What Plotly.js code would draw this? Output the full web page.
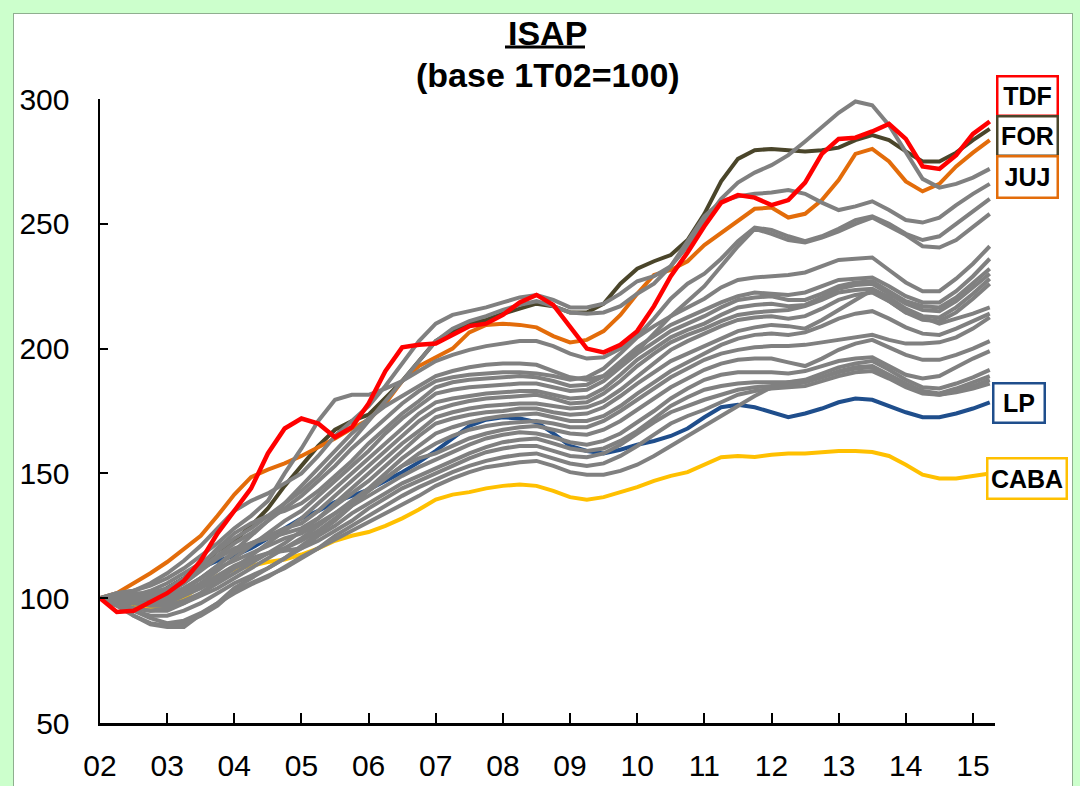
<!DOCTYPE html>
<html><head><meta charset="utf-8">
<script src="https://cdn.plot.ly/plotly-3.0.1.min.js"></script>
<style>
html,body{margin:0;padding:0;background:#ccffcc;width:1080px;height:786px;overflow:hidden}
#frame{position:absolute;left:13px;top:13px;width:1058px;height:800px;background:#fff;border:1.5px solid #8fae8f}
#chart{position:absolute;left:0;top:0;width:1080px;height:786px}
</style></head><body><div id="frame"></div><div id="chart"></div>
<script>
// Quarter labels 1T02 .. 2T15
const quarterLabels = [];
for (let y = 2; y <= 15; y++) for (let q = 1; q <= 4; q++) {
  if (y === 15 && q > 2) break;
  quarterLabels.push(q + 'T' + String(y).padStart(2, '0'));
}
const tickYears = [2002,2003,2004,2005,2006,2007,2008,2009,2010,2011,2012,2013,2014,2015];
const tickLabels = ['02','03','04','05','06','07','08','09','10','11','12','13','14','15'];

const TDF = [100,94.5,95,98.5,102,107,115,126, 135,144,158,168,172,170,164.5,168.5,
 178,191,200.5,201.5,202,205.5,209,210, 213.5,218.5,221.5,217.5,208.5,200,198.5,201.5,
 207,217,229,238.5,249,258.5,261.5,260.5, 257.5,259.5,266.5,278,284,284.5,287,290,
 284,273,272,277.5,286,291];
const FOR = [100,99,98,100,104,108,113,119, 123,129,136,145,153,161,167.5,171,
 173.5,180,187,195,203,207,210,211.5, 214,216,218,217,214.5,214.5,218,226,
 232,235,237.5,243.5,254,267,276,279.5, 280,279.5,279,279.5,280.5,283.5,285.5,283.5,
 279,275,275,278.5,283.5,288];
const JUJ = [100,102,106,110,114.5,120,125,133, 141.5,148.5,151.5,154,157,160.5,164,168,
 171.5,178,187,193,196.5,200,206.5,209.5, 210,209.5,208.5,205,202.5,203.5,207,213.5,
 222,229.5,231.5,235,241.5,246.5,251,256, 256.5,252.5,254,259.5,267.5,278,280,275,
 267,263,266,273,278.5,283.5];
const LP = [100,100,99,100,104,108,112,115, 117,120,124,128,132,135,138.5,141,
 143.5,147,150.5,154.5,159,164,169,171.5, 172.5,172,170.5,166,161,159,158,159.5,
 161.5,163,165,168,172.5,176.5,177.5,176.5, 174.5,172.5,174,176,178.5,180,179.5,177,
 174.5,172.5,172.5,174,176,178.5];
const CABA = [100,99,97,96,96,100,105,109, 111.5,113,114.5,115.5,117.5,120,123,125,
 126.5,129,132,135.5,139.5,141.5,142.5,144, 145,145.5,145,143,140.5,139.5,140.5,142.5,
 144.5,147,149,150.5,153.5,156.5,157,156.6, 157.5,158,158,158.5,159,159,158.6,157,
 153.5,149.5,148,148,149,150];

// Other provinces (grey)
const others = [
 [100,102,103,106,110,115,121,128, 135,139,142,146,150,157,165,171,
  177,185,194,203,210,213.5,215,216.5, 218.5,220.5,221.5,219.5,216.5,216.5,218,222,
  227,229,233,241,251,260,266.5,270.5, 273.5,277.5,283,288.5,294.5,299,297.5,289.5,
  279,268,264.5,266,268.5,272],
 [100,101,101,103,106,110,114,119, 124,128,133,138,143,149,156,163,
  171,179,187,195,203,208,211,213, 215.5,217.5,219,217,214.5,214,214.5,217,
  222,226,233,243,253,259,261,262, 262.5,263.5,262,258.5,255.5,257,259,255.5,
  251.5,250.5,252.5,257.5,262,266],
 [100,102,103,105,108,112,117,122, 128,133,139,150,160,171,179.5,181.5,
  181.5,184,187,191,195,197.5,199.5,201, 202,203,203,201,198,196,196.5,200,
  205,212,220,226,230,236,243,248.5, 247.5,245,243,245,248,251.5,253,250,
  246,243.5,245,250,255,260],
 [100,101,100,101,103,107,112,117, 122,126,131,138,145,152,159,166,
  172,177,181,185,189,191,192.5,193.5, 194,194,193.5,191,188.5,187.5,189,193,
  199,206,213,219,225,233,241,248, 246,243.5,242.5,244.5,247,250,252.5,249,
  245.5,241,240.5,243.5,249,254],
 [100,100,99,100,101,104,108,113, 119,125,131,136,141,147,153,160,
  166,172,178,183,187,188.5,189.5,190, 190.5,190.5,190,189,187.5,188.5,192,198,
  204.5,209,213,216.5,220,224.5,227.5,228.5, 229,229.5,230.5,233,235.5,236,236.5,231.5,
  226.5,223,223,228,234,241],
 [100,101,101,102,104,108,113,120, 126,130,133,135,138,143,149,155,
  162,168,174,179,184.5,186.5,187.5,188, 188.5,189,188.5,187,185,185.5,189,194.5,
  200.5,205,209.5,212.5,215.5,218.5,221,222.5, 222,221.5,222.5,225,227.5,228,228.5,225,
  221,218.5,218.5,223,229,236],
 [100,99,98,98,99,102,106,111, 116,121,126,131,135,141,147,153,
  159,166,172,177,182,183.5,184.5,185, 185.5,186,186,184.5,183,183.5,187,192.5,
  198,202.5,207,210,213,216.5,219.5,220.5, 221,219.5,219.5,222,225,226.5,227,223,
  219,217,216.5,220.5,226,232],
 [100,98,96,95,95,98,102,107, 112,117,122,127,132,138,144,150,
  156,162,168,174,178.5,180,181,182, 182.5,183,183,181.5,180,180.5,184,189.5,
  195.5,200,204.5,207.5,210,213.5,216.5,217.5, 218,217,217.5,220.5,224,225.5,226,222,
  218,215.5,215,219,224.5,230],
 [100,101,101,100,100,103,108,113, 118,122,125,128,130,135,141,147,
  153,159,165,171,175.5,177.5,179,180, 180.5,181,181.5,180,178,178.5,182,187,
  193,198,202.5,205.5,208,211,213.5,214.5, 215,215.5,217,219.5,222.5,223.5,224,220.5,
  216,213,212.5,216.5,222,228],
 [100,99,98,97,97,99,102,106, 110,114,118,122,127,132,138,144,
  150,156,162,167,172.5,174.5,176,177, 177.5,178,178,177,176,176.5,179,183.5,
  189,194.5,199.5,203,206,209,211.5,212.5, 213,212,213,216,219.5,221.5,222.5,219,
  214.5,211.5,211,214.5,220,226],
 [100,101,102,102,102,106,111,116, 120,122,124,126,128,132,137,142,
  147,153,159,165,170,172,173.5,174.5, 175,176,176,174.5,173.5,174,176.5,181,
  186,190.5,195,198,201,204,207,208.5, 209.5,209,208,211.5,215.5,219.5,223.5,219,
  214.5,212.5,210,212,214,216.5],
 [100,98,96,95,96,98,101,104, 108,112,116,120,124,129,134,139,
  144,150,156,161,166,168.5,170.5,172, 173,173.5,174,172.5,171,171,173,177,
  182,186.5,191,194.5,198,201.5,204,205.5, 206,205.5,206.5,209,212,214,215,212,
  208.5,206,205.5,208,211,214],
 [100,100,100,100,101,104,108,112, 115,118,121,124,126,130,134,138,
  143,148,153,158,162,165,167.5,169, 170,170.5,171,170,168.5,168.5,171,175,
  179.5,184,188.5,192,195.5,198,199.5,200.5, 201,201,201.5,202.5,203.5,204.5,205.5,203.5,
  202,202,202.5,204.5,208,212.5],
 [100,97,95,93,93,95,98,102, 106,109,112,116,121,126,131,137,
  143,148,153,156,158,161,164,166, 167.5,168.5,169,167.5,166,165.5,167.5,171,
  175.5,180,184.5,188,191.5,194,195.5,196, 196,194.5,193,196,199.5,202,203.5,200.5,
  197.5,195.5,195.5,197.5,200,203],
 [100,99,98,98,98,101,104,108, 112,115,118,120,123,127,132,137,
  141,145,149,152.5,155.5,158.5,161.5,164, 165.5,166.5,166,164.5,162.5,161.5,163,166,
  170.5,175,180,184,187.5,189.5,190.5,190.5, 190.5,190,191,193,195,196,196.5,193,
  189.5,188,189,192.5,196,199],
 [100,98,95,92,90,91,94,98, 104,108,112,116,120,125,129,134,
  138,142,146,149,152,155,158,160.5, 162.5,163.5,164,162,160,159,160,163,
  167,172,177,180.5,183.5,185,186,186.5, 186.5,186.5,187.5,190,192.5,194,195,191.5,
  187.5,184.5,184,186,188.5,191.5],
 [100,101,100,100,100,102,105,109, 113,116,118,119,120,123,127,131,
  136,140,144,147,150,153,156,158.5, 160,161,161,159,157,156.5,158,161.5,
  166,170.5,174.5,177,179.5,181.5,183.5,184.5, 185,185.5,186.5,188.5,191,192.5,193,189.5,
  186,183,182,184,186.5,189],
 [100,97,93,90,89,90,93,97, 103,106,109,112,116,120,125,129,
  133,137,141,144.5,147.5,150.5,153,155, 156.5,157.5,158,156,154,153,154,157,
  161,165.5,170,173,175.5,178.5,181.5,183, 184,184.5,185,187,189,190.5,191,188,
  184.5,182,181.5,183,185,187.5],
 [100,99,93,89.5,88.5,88.5,93.5,98, 102,105.5,108.5,112.5,116.5,120,123.5,127,
  130.5,134,137.5,141,145,148,150.5,152.5, 153.5,154.5,155,153,150.5,149.5,149.5,151,
  153.5,157,161,165,169,173,177,181, 184.5,186.5,187,188.5,190.5,192,192.5,189,
  185.5,182.5,181.5,182.5,184,186]
];

const xq = quarterLabels.map(l => 2000 + parseInt(l.slice(2), 10) + (parseInt(l[0], 10) - 1) / 4);

const GREY = '#808080';
const traces = [];
const line = (y, color, w) => ({x: xq, y: y, type: 'scatter', mode: 'lines',
  line: {color: color, width: w}, hoverinfo: 'skip', showlegend: false});
traces.push(line(CABA, '#ffc000', 4));
traces.push(line(LP, '#1f4e8c', 4));
traces.push(line(FOR, '#4a452a', 4));
traces.push(line(JUJ, '#e36c0a', 4));
others.forEach(s => traces.push(line(s, GREY, 4)));
traces.push(line(TDF, '#ff0000', 4.5));

const boxLabels = [
  {text: 'TDF', color: '#ff0000', x: 1027, y: 96, w: 56, h: 35},
  {text: 'FOR', color: '#4a452a', x: 1027, y: 136, w: 56, h: 35},
  {text: 'JUJ', color: '#e36c0a', x: 1027, y: 177, w: 56, h: 37},
  {text: 'LP', color: '#1f4e8c', x: 1019, y: 403, w: 47, h: 35},
  {text: 'CABA', color: '#ffc000', x: 1027, y: 478, w: 75, h: 36}
];
const PL = 100, PR = 995, PT = 99, PB = 723;
const annotations = boxLabels.map(b => ({
  xref: 'paper', yref: 'paper',
  x: (b.x - PL) / (PR - PL), y: (PB - b.y) / (PB - PT),
  xanchor: 'center', yanchor: 'middle', showarrow: false,
  text: '<b>' + b.text + '</b>',
  font: {family: 'Liberation Sans, Arial, sans-serif', size: 25, color: '#000'},
  bgcolor: '#ffffff', bordercolor: b.color, borderwidth: 2.5, borderpad: 1,
  width: b.w, height: b.h
}));
annotations.push({xref: 'paper', yref: 'paper', x: 0.5, y: (PB - 33) / (PB - PT),
  xanchor: 'center', yanchor: 'middle', showarrow: false,
  text: '<b>ISAP</b>', font: {family: 'Liberation Sans, Arial, sans-serif', size: 34, color: '#000'}});
annotations.push({xref: 'paper', yref: 'paper', x: 0.5, y: (PB - 75) / (PB - PT),
  xanchor: 'center', yanchor: 'middle', showarrow: false,
  text: '<b>(base 1T02=100)</b>', font: {family: 'Liberation Sans, Arial, sans-serif', size: 34, color: '#000'}});

const tickFont = {family: 'Liberation Sans Narrow, Liberation Sans, Arial, sans-serif', size: 30, color: '#000'};
const layout = {
  width: 1080, height: 786,
  margin: {l: PL, r: 1080 - PR, t: PT, b: 786 - PB, pad: 0},
  paper_bgcolor: 'rgba(0,0,0,0)', plot_bgcolor: 'rgba(0,0,0,0)',
  showlegend: false,
  xaxis: {range: [2002, 2002 + (PR - PL) / 67.15], tickvals: tickYears, ticktext: tickLabels,
    ticks: 'inside', ticklen: 10, tickwidth: 2, tickcolor: '#000',
    showline: true, linecolor: '#000', linewidth: 2.5, showgrid: false, zeroline: false,
    tickfont: tickFont, ticklabelstandoff: 14},
  yaxis: {range: [50, 300], tickvals: [50,100,150,200,250,300],
    ticks: 'inside', ticklen: 8, tickwidth: 2, tickcolor: '#000',
    showline: true, linecolor: '#000', linewidth: 2.5, showgrid: false, zeroline: false,
    tickfont: tickFont, ticklabelstandoff: 22},
  annotations: annotations,
  shapes: [{type: 'line', xref: 'paper', yref: 'paper',
    x0: (505 - PL) / (PR - PL), x1: (585 - PL) / (PR - PL),
    y0: (PB - 47) / (PB - PT), y1: (PB - 47) / (PB - PT),
    line: {color: '#000', width: 3}}]
};
Plotly.newPlot('chart', traces, layout, {staticPlot: true, displayModeBar: false});
</script></body></html>
